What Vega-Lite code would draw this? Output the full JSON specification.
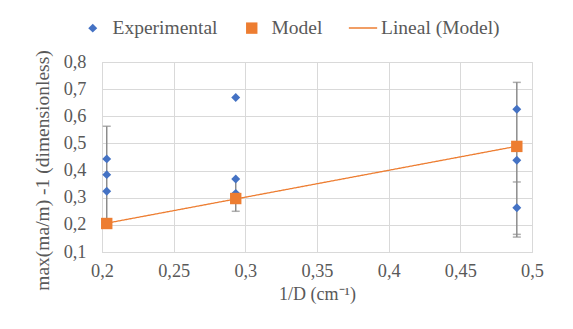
{
  "$schema": "https://vega.github.io/schema/vega-lite/v6.json",
  "width": 430,
  "height": 190,
  "autosize": {"type": "none"},
  "padding": {"left": 102, "top": 62, "right": 41, "bottom": 77},
  "background": "white",
  "config": {
    "view": {"stroke": "#d9d9d9"},
    "font": "Liberation Serif",
    "axis": {"labelFont": "Liberation Serif", "titleFont": "Liberation Serif", "labelColor": "#595959", "titleColor": "#595959", "labelFontSize": 18.3, "titleFontSize": 18, "titleFontWeight": "normal", "gridColor": "#d9d9d9", "domainColor": "#d9d9d9", "ticks": false, "labelOverlap": false},
    "legend": {"labelFont": "Liberation Serif"}
  },
  "datasets": {
    "pts": [
      {"series": "Experimental", "x": 0.2033, "y": 0.443},
      {"series": "Experimental", "x": 0.2033, "y": 0.385},
      {"series": "Experimental", "x": 0.2033, "y": 0.324},
      {"series": "Experimental", "x": 0.2933, "y": 0.669},
      {"series": "Experimental", "x": 0.2933, "y": 0.369},
      {"series": "Experimental", "x": 0.2933, "y": 0.316},
      {"series": "Experimental", "x": 0.4894, "y": 0.626},
      {"series": "Experimental", "x": 0.4894, "y": 0.438},
      {"series": "Experimental", "x": 0.4894, "y": 0.263},
      {"series": "Model", "x": 0.2033, "y": 0.205},
      {"series": "Model", "x": 0.2933, "y": 0.297},
      {"series": "Model", "x": 0.4894, "y": 0.489}
    ],
    "err": [
      {"x": 0.2033, "y": 0.205, "hi": 0.563},
      {"x": 0.2933, "y": 0.25, "hi": 0.369},
      {"x": 0.4894, "y": 0.155, "hi": 0.725}
    ],
    "caps": [
      {"x": 0.2033, "y": 0.563},
      {"x": 0.2933, "y": 0.25},
      {"x": 0.4894, "y": 0.725},
      {"x": 0.4894, "y": 0.358},
      {"x": 0.4894, "y": 0.165},
      {"x": 0.4894, "y": 0.155}
    ]
  },
  "encoding": {
    "x": {"field": "x", "type": "quantitative", "scale": {"domain": [0.2, 0.5], "nice": false, "zero": false},
      "axis": {"values": [0.2, 0.25, 0.3, 0.35, 0.4, 0.45, 0.5], "labelExpr": "replace(format(datum.value, '.2~f'), '.', ',')", "title": "1/D (cm⁻¹)", "labelPadding": 10, "titlePadding": 6, "labelFlush": false, "labelOverlap": false, "labelBound": false}},
    "y": {"field": "y", "type": "quantitative", "scale": {"domain": [0.1, 0.8], "nice": false, "zero": false},
      "axis": {"values": [0.1, 0.2, 0.3, 0.4, 0.5, 0.6, 0.7, 0.8], "labelExpr": "replace(format(datum.value, '.1f'), '.', ',')", "title": "max(ma/m) -1 (dimensionless)", "titleFontSize": 19.5, "titleX": -50, "titleY": 108, "labelPadding": 16, "labelOverlap": false, "labelBound": false, "labelFlush": false}}
  },
  "layer": [
    {
      "data": {"name": "err"},
      "mark": {"type": "rule", "color": "#8c8c8c", "strokeWidth": 1.5},
      "encoding": {
        "y2": {"field": "hi"}
      }
    },
    {
      "data": {"name": "caps"},
      "mark": {"type": "tick", "orient": "horizontal", "color": "#8c8c8c", "size": 8, "thickness": 1.5}
    },
    {
      "data": {"name": "pts"},
      "transform": [{"filter": "datum.series === 'Model'"}, {"regression": "y", "on": "x", "extent": [0.2033, 0.4894]}],
      "mark": {"type": "line", "color": "#ED7D31", "strokeWidth": 1.3},
      "encoding": {
        "strokeDash": {"datum": "Lineal (Model)", "scale": {"range": [[1, 0]]},
          "legend": {"title": null, "orient": "none", "legendX": 246, "legendY": -49, "labelFont": "Liberation Serif", "labelFontSize": 19.5, "labelColor": "#595959", "symbolType": "stroke", "symbolSize": 800, "symbolStrokeColor": "#ED7D31", "symbolStrokeWidth": 1.3, "labelOffset": 3}}
      }
    },
    {
      "data": {"name": "pts"},
      "mark": {"type": "point", "filled": true, "opacity": 1},
      "encoding": {
        "color": {"field": "series", "type": "nominal", "scale": {"domain": ["Experimental", "Model"], "range": ["#4472C4", "#ED7D31"]},
          "legend": {"title": null, "orient": "none", "legendX": -19, "legendY": -44, "direction": "horizontal", "columns": 2, "columnPadding": 24, "labelFont": "Liberation Serif", "labelFontSize": 19.5, "labelColor": "#595959", "labelOffset": 10,
            "encode": {"symbols": {"update": {"size": {"signal": "datum.value === 'Model' ? 100 : 60"}}}}}},
        "shape": {"field": "series", "type": "nominal", "scale": {"domain": ["Experimental", "Model"], "range": ["diamond", "square"]}},
        "size": {"field": "series", "type": "nominal", "scale": {"domain": ["Experimental", "Model"], "range": [80, 130]}, "legend": null},
        "order": {"field": "series", "sort": "ascending"}
      }
    }
  ]
}
